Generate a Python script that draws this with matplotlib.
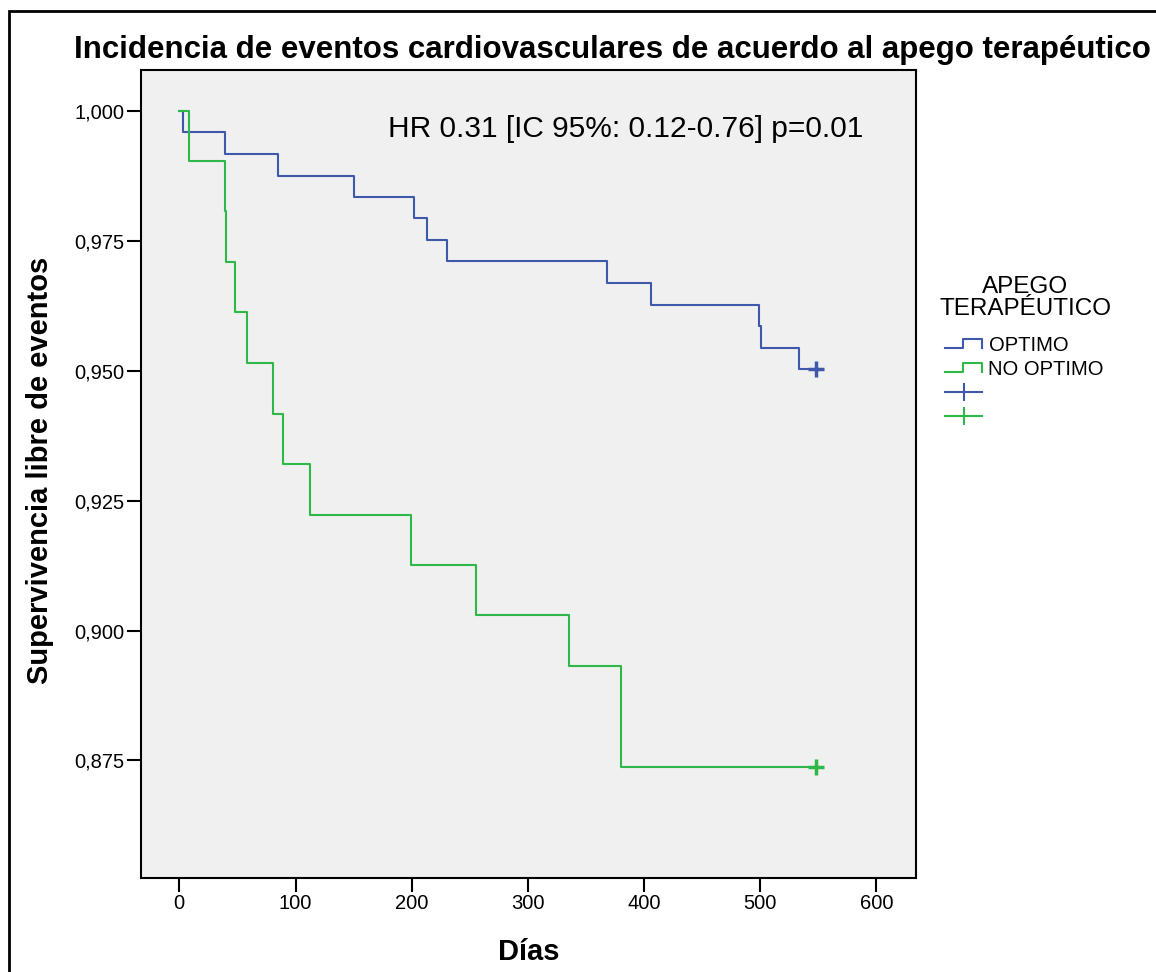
import matplotlib
matplotlib.use('Agg')
import matplotlib.pyplot as plt
from matplotlib.lines import Line2D
from matplotlib.patches import Rectangle
from matplotlib.legend_handler import HandlerBase, HandlerLine2D

plt.rcParams['font.family'] = ['Liberation Sans', 'DejaVu Sans']

# Kaplan-Meier steps (time in days, survival)
time_optimo = [0, 3, 39.5, 85, 150, 202, 213, 230.5, 368.5, 406, 498.5, 500.5, 533]
surv_optimo = [1.000, 0.9958, 0.9917, 0.9875, 0.9833, 0.9793, 0.9751, 0.9710,
               0.9668, 0.9626, 0.9585, 0.9544, 0.9502]
time_no_optimo = [0, 8.5, 39.5, 40.5, 47.5, 58, 80.5, 89, 112.5, 199, 255, 335, 380]
surv_no_optimo = [1.000, 0.9903, 0.9806, 0.9709, 0.9612, 0.9515, 0.9417, 0.9320,
                  0.9223, 0.9126, 0.9029, 0.8932, 0.8738]
censor_time = 548

groups = ['OPTIMO', 'NO OPTIMO']
colors = ['#3E58AC', '#2EB848']

y_ticks = [0.875, 0.900, 0.925, 0.950, 0.975, 1.000]
x_ticks = [0, 100, 200, 300, 400, 500, 600]


class StepHandler(HandlerBase):
    # legend key drawn as a little step, like SPSS does
    def create_artists(self, legend, orig_handle, xdescent, ydescent,
                       width, height, fontsize, trans):
        x0, y0 = -xdescent, -ydescent
        lo, hi = y0 + 0.2 * height, y0 + 0.85 * height
        xm = x0 + 0.47 * width
        xs = [x0, xm, xm, x0 + width, x0 + width]
        ys = [lo, lo, hi, hi, lo]
        ln = Line2D(xs, ys, color=orig_handle.get_color(),
                    lw=orig_handle.get_linewidth(), transform=trans)
        return [ln]


fig = plt.figure(figsize=(11.56, 9.72), dpi=100)
W, H = 1156, 972
ax = fig.add_axes([140.5 / W, 1 - 878 / H, (916 - 140.5) / W, (878 - 70) / H])
ax.set_facecolor('#F0F0F0')

data = [(time_optimo, surv_optimo), (time_no_optimo, surv_no_optimo)]
for (t, s), c in zip(data, colors):
    ax.plot(t + [censor_time], s + [s[-1]], drawstyle='steps-post', color=c, lw=1.5)
    ax.plot([censor_time], [s[-1]], marker='+', ms=11, mew=2.5, color=c, ls='none')

ax.set_xlim(-33.4, 634)
ax.set_ylim(0.8524, 1.0078)
ax.set_xticks(x_ticks)
ax.set_yticks(y_ticks)
ax.set_yticklabels([f'{v:.3f}'.replace('.', ',') for v in y_ticks])
ax.tick_params(direction='out', length=10, width=1.5, labelsize=14.5, pad=1.5, color='black')
for sp in ax.spines.values():
    sp.set_linewidth(1.5)

ax.text(388 / W, 1 - 136.7 / H, 'HR 0.31 [IC 95%: 0.12-0.76] p=0.01', transform=fig.transFigure,
        fontsize=21.5, ha='left', va='baseline')

fig.text(612.5 / W, 1 - 58 / H, 'Incidencia de eventos cardiovasculares de acuerdo al apego terapéutico',
         fontsize=22.5, fontweight='bold', ha='center', va='baseline')
fig.text(40 / W, 1 - 470 / H, 'Supervivencia libre de eventos', rotation=90,
         fontsize=21, fontweight='bold', ha='center', va='center')
fig.text(529 / W, 1 - 960 / H, 'Días', fontsize=21, fontweight='bold', ha='center', va='baseline')

# legend title drawn on its own, entries below
fig.text(1025 / W, 1 - 315 / H, 'APEGO\nTERAPÉUTICO', fontsize=17.5, ha='center', va='baseline',
         multialignment='center', linespacing=1.0)

h_opt = Line2D([], [], color=colors[0], lw=1.5)
h_no = Line2D([], [], color=colors[1], lw=1.5)
h_c1 = Line2D([], [], color=colors[0], lw=1.5, marker='|', ms=13, mew=1.5)
h_c2 = Line2D([], [], color=colors[1], lw=1.5, marker='|', ms=13, mew=1.5)
leg = ax.legend([h_opt, h_no, h_c1, h_c2], groups + ['', ''],
                handler_map={h_opt: StepHandler(), h_no: StepHandler(),
                             h_c1: HandlerLine2D(numpoints=1), h_c2: HandlerLine2D(numpoints=1)},
                fontsize=14.5, loc='upper left', bbox_to_anchor=(945 / W, 1 - 336 / H),
                bbox_transform=fig.transFigure, frameon=False, borderpad=0, borderaxespad=0,
                handlelength=1.86, handletextpad=0.3, labelspacing=0.25)

# outer frame of the exported chart
fig.patches.append(Rectangle((9 / W, -0.05), 1.2, 1.05 - 11 / H, transform=fig.transFigure,
                             fill=False, lw=2, ec='black'))

fig.savefig('out.png', dpi=100)
